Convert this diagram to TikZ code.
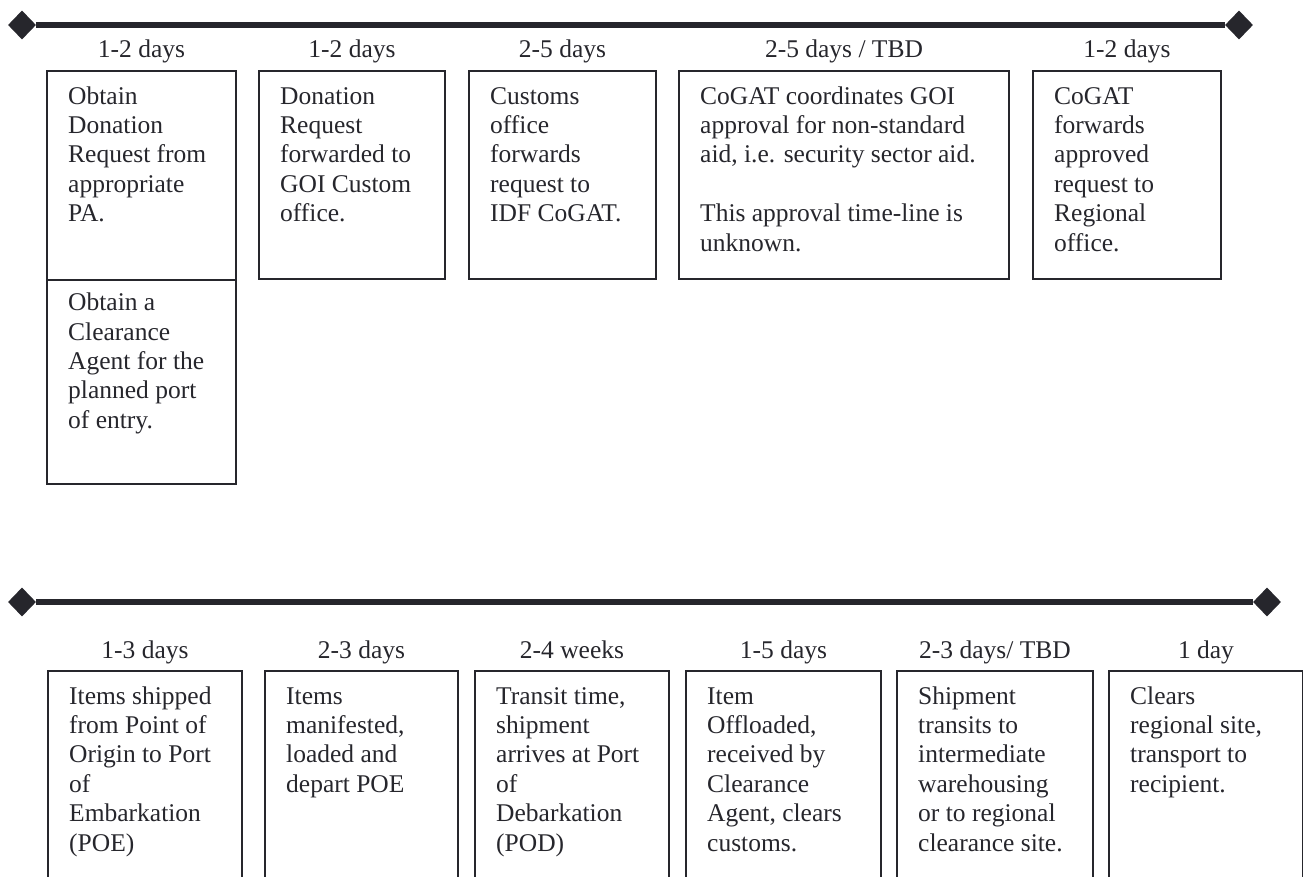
\documentclass[tikz,border=0pt]{standalone}
\usepackage{fontspec}
\setmainfont{Liberation Serif}
\usetikzlibrary{positioning,shapes.geometric}
\definecolor{ink}{RGB}{38,38,44}

\begin{document}
\begin{tikzpicture}[x=1pt,y=-1pt,
        box/.style={draw=ink,line width=2pt,inner sep=0pt,anchor=north west},
        txt/.style={font=\fontsize{25.5}{29.4}\selectfont,text=ink,align=left,inner sep=0pt},
        dur/.style={font=\fontsize{25.5}{29.4}\selectfont,text=ink,anchor=base,inner sep=0pt},
        tip/.style={diamond,fill=ink,inner sep=0pt,minimum width=28pt,minimum height=29pt},
        bar/.style={draw=ink,line width=6pt}]
        \useasboundingbox (0,0) rectangle (1303,877);
        \clip (0,0) rectangle (1303,877);

        % upper time line
        \node[tip] (tl) at (22,25) {};
        \node[tip] (tr) at (1239,25) {};
        \draw[bar] (tl) -- (tr);

        \node[box,minimum width=189pt,minimum height=209pt] (request) at (46,70) {};
        \node[box,minimum width=189pt,minimum height=204pt] (agent) at (46,279) {};
        \node[box,minimum width=186pt,minimum height=208pt] (forward) at (258,70) {};
        \node[box,minimum width=187pt,minimum height=208pt] (customs) at (468,70) {};
        \node[box,minimum width=330pt,minimum height=208pt] (approval) at (678,70) {};
        \node[box,minimum width=188pt,minimum height=208pt] (regional) at (1032,70) {};

        \node[dur] (drequest) at ([yshift=12pt]request.north) {1-2 days};
        \node[dur] (dforward) at ([yshift=12pt]forward.north) {1-2 days};
        \node[dur] (dcustoms) at ([yshift=12pt]customs.north) {2-5 days};
        \node[dur] (dapproval) at ([yshift=12pt]approval.north) {2-5 days / TBD};
        \node[dur] (dregional) at ([yshift=12pt]regional.north) {1-2 days};

        \node[txt,below right=13.4pt and 22pt of request.north west] (trequest)
            {\strut Obtain\\Donation\\Request from\\appropriate\\PA.};
        \node[txt,below right=11pt and 22pt of agent.north west] (tagent)
            {\strut Obtain a\\Clearance\\Agent for the\\planned port\\of entry.};
        \node[txt,below right=13.4pt and 22pt of forward.north west] (tforward)
            {\strut Donation\\Request\\forwarded to\\GOI Custom\\office.};
        \node[txt,below right=13.4pt and 22pt of customs.north west] (tcustoms)
            {\strut Customs\\office\\forwards\\request to\\IDF CoGAT.};
        \node[txt,below right=13.4pt and 22pt of approval.north west] (tapproval)
            {\strut CoGAT coordinates GOI\\approval for non-standard\\aid, i.e. security sector aid.\\[29.4pt]This approval time-line is\\unknown.};
        \node[txt,below right=13.4pt and 22pt of regional.north west] (tregional)
            {\strut CoGAT\\forwards\\approved\\request to\\Regional\\office.};

        % lower time line
        \node[tip] (bl) at (22,602) {};
        \node[tip] (br) at (1267,602) {};
        \draw[bar] (bl) -- (br);

        \node[box,minimum width=194pt,minimum height=240pt] (shipped) at (47,670) {};
        \node[box,minimum width=193pt,minimum height=240pt] (loaded) at (264,670) {};
        \node[box,minimum width=194pt,minimum height=240pt] (transit) at (474,670) {};
        \node[box,minimum width=195pt,minimum height=240pt] (offload) at (685,670) {};
        \node[box,minimum width=196pt,minimum height=240pt] (warehouse) at (896,670) {};
        \node[box,minimum width=194pt,minimum height=240pt] (recipient) at (1108,670) {};

        \node[dur] (dshipped) at ([yshift=12pt]shipped.north) {1-3 days};
        \node[dur] (dloaded) at ([yshift=12pt]loaded.north) {2-3 days};
        \node[dur] (dtransit) at ([yshift=12pt]transit.north) {2-4 weeks};
        \node[dur] (doffload) at ([yshift=12pt]offload.north) {1-5 days};
        \node[dur] (dwarehouse) at ([yshift=12pt]warehouse.north) {2-3 days/ TBD};
        \node[dur] (drecipient) at ([yshift=12pt]recipient.north) {1 day};

        \node[txt,below right=13.4pt and 22pt of shipped.north west] (tshipped)
            {\strut Items shipped\\from Point of\\Origin to Port\\of\\Embarkation\\(POE)};
        \node[txt,below right=13.4pt and 22pt of loaded.north west] (tloaded)
            {\strut Items\\manifested,\\loaded and\\depart POE};
        \node[txt,below right=13.4pt and 22pt of transit.north west] (ttransit)
            {\strut Transit time,\\shipment\\arrives at Port\\of\\Debarkation\\(POD)};
        \node[txt,below right=13.4pt and 22pt of offload.north west] (toffload)
            {\strut Item\\Offloaded,\\received by\\Clearance\\Agent, clears\\customs.};
        \node[txt,below right=13.4pt and 22pt of warehouse.north west] (twarehouse)
            {\strut Shipment\\transits to\\intermediate\\warehousing\\or to regional\\clearance site.};
        \node[txt,below right=13.4pt and 22pt of recipient.north west] (trecipient)
            {\strut Clears\\regional site,\\transport to\\recipient.};
\end{tikzpicture}
\end{document}
